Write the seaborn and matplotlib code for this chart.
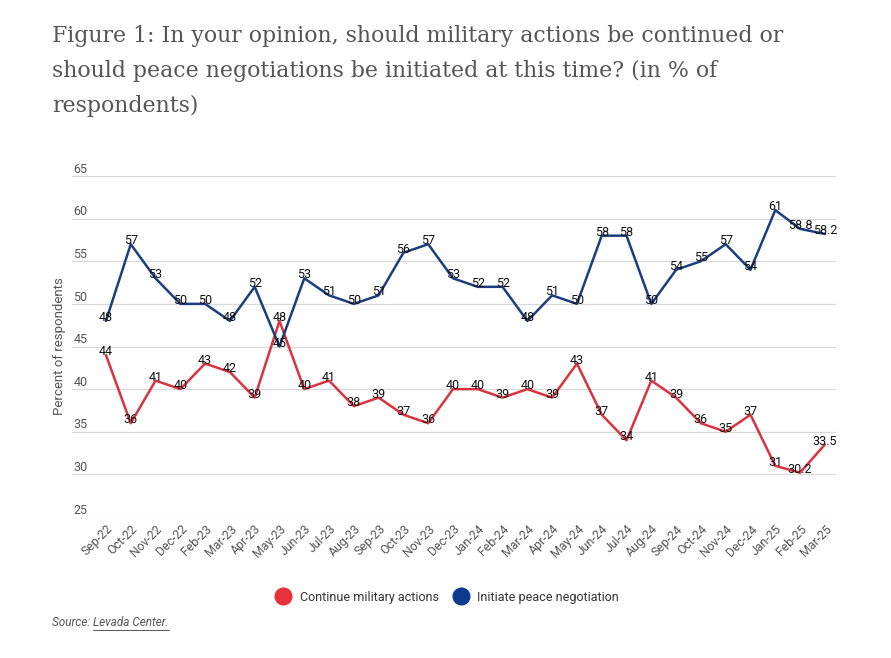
import matplotlib
matplotlib.use("Agg")
import matplotlib.pyplot as plt
import matplotlib.transforms as mtransforms
from matplotlib.lines import Line2D
import seaborn as sns
import pandas as pd

# ── data ─────────────────────────────────────────
months = ["Sep-22", "Oct-22", "Nov-22", "Dec-22", "Feb-23", "Mar-23", "Apr-23",
          "May-23", "Jun-23", "Jul-23", "Aug-23", "Sep-23", "Oct-23", "Nov-23",
          "Dec-23", "Jan-24", "Feb-24", "Mar-24", "Apr-24", "May-24", "Jun-24",
          "Jul-24", "Aug-24", "Sep-24", "Oct-24", "Nov-24", "Dec-24", "Jan-25",
          "Feb-25", "Mar-25"]
continue_military = [44, 36, 41, 40, 43, 42, 39, 48, 40, 41, 38, 39, 37, 36,
                     40, 40, 39, 40, 39, 43, 37, 34, 41, 39, 36, 35, 37, 31,
                     30.2, 33.5]
initiate_peace = [48, 57, 53, 50, 50, 48, 52, 45, 53, 51, 50, 51, 56, 57,
                  53, 52, 52, 48, 51, 50, 58, 58, 50, 54, 55, 57, 54, 61,
                  58.8, 58.2]
y_ticks = [25, 30, 35, 40, 45, 50, 55, 60, 65]

SERIES = {
    "Continue military actions": ("#d8343f", "#e8303a"),
    "Initiate peace negotiation": ("#1b3e80", "#0b3b8f"),
}
GREY = "#555555"

df = pd.DataFrame({
    "month": months * 2,
    "idx": list(range(len(months))) * 2,
    "value": continue_military + initiate_peace,
    "series": ["Continue military actions"] * len(months)
              + ["Initiate peace negotiation"] * len(months),
})

sns.set_theme(style="white")
plt.rcParams["font.family"] = ["Roboto", "DejaVu Sans"]

fig = plt.figure(figsize=(8.91, 6.58), dpi=100)
ax = fig.add_axes([72 / 891, 1 - 517 / 658, (836 - 72) / 891, (517 - 176) / 658])

sns.lineplot(data=df, x="idx", y="value", hue="series",
             palette={k: v[0] for k, v in SERIES.items()},
             linewidth=1.8, ax=ax, legend=False)

# value labels
for vals in (continue_military, initiate_peace):
    for i, v in enumerate(vals):
        ax.annotate(f"{v:g}", (i, v), xytext=(0, 2.5), textcoords="offset points",
                    ha="center", va="center", fontsize=9, color="#111111")

ax.set_xlim(-1.37, len(months) - 1 + 0.45)
ax.set_ylim(25, 65)
ax.set_yticks(y_ticks)
ax.set_yticklabels([str(t) for t in y_ticks])
ax.yaxis.grid(True, color="#d9d9d9", linewidth=0.9)
ax.xaxis.grid(False)
for s in ax.spines.values():
    s.set_visible(False)

# y labels sit just above the grid lines, at their left end
ax.tick_params(axis="y", length=0, pad=0, labelsize=9, labelcolor=GREY)
offset = mtransforms.ScaledTranslation(1 / 72, 6 / 72, fig.dpi_scale_trans)
for lbl in ax.get_yticklabels():
    lbl.set_horizontalalignment("left")
    lbl.set_transform(lbl.get_transform() + offset)

ax.set_xticks(range(len(months)))
ax.set_xticklabels(months, rotation=45, ha="right", rotation_mode="anchor")
ax.tick_params(axis="x", length=0, pad=4, labelsize=8.8, labelcolor=GREY)
ax.set_xlabel("")
ax.set_ylabel("Percent of respondents", fontsize=9.5, color=GREY, labelpad=4)

fig.text(52 / 891, 1 - 25 / 658,
         "Figure 1: In your opinion, should military actions be continued or\n"
         "should peace negotiations be initiated at this time? (in % of\n"
         "respondents)",
         family="DejaVu Serif", fontsize=15.8, color=GREY, va="top", ha="left",
         linespacing=1.75)

handles = [Line2D([], [], marker="o", linestyle="", markersize=12,
                  markerfacecolor=v[1], markeredgecolor=v[1], label=k)
           for k, v in SERIES.items()]
fig.legend(handles=handles, loc="center", bbox_to_anchor=(445 / 891, 1 - 597 / 658),
           ncol=2, frameon=False, fontsize=9, handletextpad=0.3, columnspacing=0.8,
           labelcolor="#333333")

src = fig.text(52 / 891, 1 - 622 / 658, "Source: ", fontsize=8.5, style="italic",
               color=GREY, va="center", ha="left")
fig.canvas.draw()
bb = src.get_window_extent()
link = fig.text(bb.x1 / fig.bbox.width, 1 - 622 / 658, "Levada Center.",
                fontsize=8.5, style="italic", color=GREY, va="center", ha="left")
fig.canvas.draw()
lb = link.get_window_extent()
fig.lines.append(Line2D([lb.x0 / fig.bbox.width, lb.x1 / fig.bbox.width],
                        [(lb.y0 - 1) / fig.bbox.height] * 2, transform=fig.transFigure,
                        color=GREY, linewidth=0.7))

fig.savefig("out.png", dpi=100)
